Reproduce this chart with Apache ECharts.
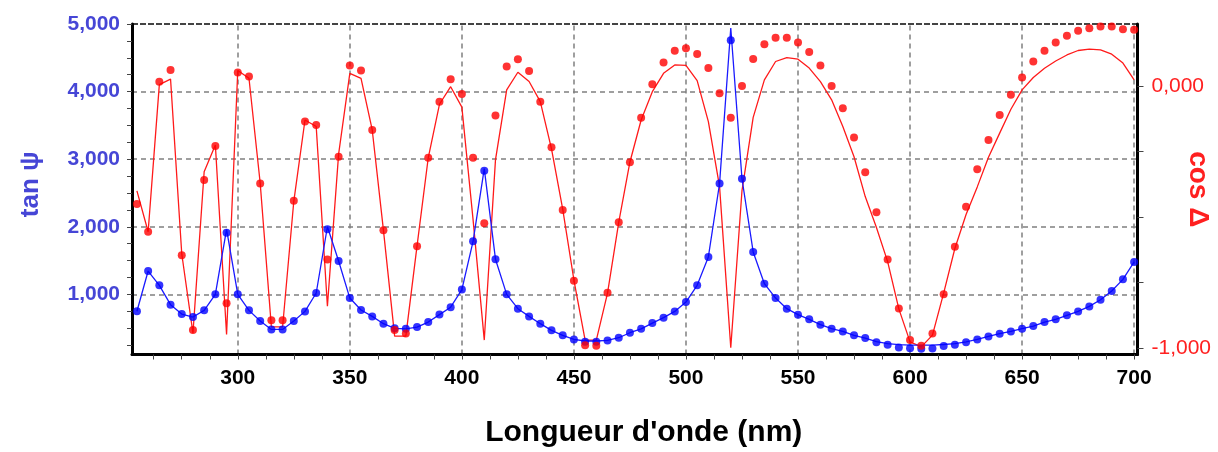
<!DOCTYPE html>
<html>
<head>
<meta charset="utf-8">
<script src="https://cdn.jsdelivr.net/npm/echarts@6.0.0/dist/echarts.min.js"></script>
<style>
  html, body { margin: 0; padding: 0; background: #ffffff; }
  #chart { width: 1218px; height: 452px; }
</style>
</head>
<body>
<div id="chart"></div>
<script>
// Wavelengths (nm)
const wavelengths = [255,260,265,270,275,280,285,290,295,300,
  305,310,315,320,325,330,335,340,345,350,
  355,360,365,370,375,380,385,390,395,400,
  405,410,415,420,425,430,435,440,445,450,
  455,460,465,470,475,480,485,490,495,500,
  505,510,515,520,525,530,535,540,545,550,
  555,560,565,570,575,580,585,590,595,600,
  605,610,615,620,625,630,635,640,645,650,
  655,660,665,670,675,680,685,690,695,700];

// tan psi measured (dots)
const tanPsiMeasured = [0.75,1.345,1.133,0.847,0.708,0.664,0.763,1.00,1.91,1.00,
  0.763,0.605,0.481,0.481,0.605,0.748,1.02,1.963,1.493,0.945,
  0.768,0.674,0.566,0.497,0.49,0.516,0.59,0.70,0.81,1.07,
  1.785,2.83,1.52,1.00,0.788,0.674,0.566,0.467,0.393,0.333,
  0.30,0.30,0.318,0.358,0.432,0.49,0.575,0.655,0.748,0.886,
  1.133,1.553,2.64,4.76,2.71,1.627,1.158,0.945,0.788,0.699,
  0.63,0.551,0.492,0.452,0.393,0.353,0.293,0.255,0.215,0.204,
  0.195,0.20,0.234,0.255,0.293,0.333,0.378,0.418,0.452,0.492,
  0.53,0.59,0.63,0.689,0.748,0.822,0.92,1.049,1.222,1.479];

// tan psi model (line)
const tanPsiModel = [0.75,1.345,1.133,0.847,0.708,0.664,0.763,1.00,1.96,1.00,
  0.763,0.605,0.481,0.481,0.605,0.748,1.02,2.00,1.493,0.945,
  0.768,0.674,0.566,0.497,0.49,0.516,0.59,0.70,0.81,1.07,
  1.785,2.86,1.52,1.00,0.788,0.674,0.566,0.467,0.393,0.333,
  0.31,0.31,0.318,0.358,0.432,0.49,0.575,0.655,0.748,0.886,
  1.133,1.553,2.64,4.94,2.71,1.627,1.158,0.945,0.788,0.699,
  0.63,0.551,0.492,0.452,0.393,0.353,0.30,0.27,0.255,0.25,
  0.248,0.25,0.258,0.272,0.298,0.333,0.378,0.418,0.452,0.492,
  0.53,0.59,0.63,0.689,0.748,0.822,0.92,1.049,1.222,1.479];

// cos delta measured (dots)
const cosDeltaMeasured = [-0.450,-0.556,0.016,0.061,-0.646,-0.931,-0.359,-0.229,-0.829,0.051,
  0.036,-0.372,-0.893,-0.893,-0.438,-0.136,-0.149,-0.662,-0.270,0.078,
  0.059,-0.168,-0.550,-0.931,-0.944,-0.611,-0.274,-0.060,0.025,-0.031,
  -0.274,-0.524,-0.113,0.074,0.102,0.057,-0.060,-0.234,-0.473,-0.743,
  -0.989,-0.991,-0.789,-0.520,-0.291,-0.121,0.006,0.089,0.134,0.144,
  0.122,0.068,-0.028,-0.121,0.000,0.103,0.159,0.184,0.184,0.165,
  0.129,0.078,0.000,-0.085,-0.197,-0.329,-0.482,-0.662,-0.849,-0.969,
  -0.991,-0.944,-0.794,-0.613,-0.461,-0.318,-0.206,-0.111,-0.034,0.032,
  0.093,0.134,0.165,0.191,0.210,0.220,0.226,0.226,0.216,0.214];

// cos delta model (line)
const cosDeltaModel = [-0.40,-0.556,0.005,0.026,-0.64,-0.943,-0.327,-0.225,-0.948,0.059,
  0.029,-0.37,-0.919,-0.919,-0.44,-0.13,-0.155,-0.84,-0.26,0.048,
  0.029,-0.168,-0.55,-0.954,-0.954,-0.61,-0.274,-0.07,-0.003,-0.081,
  -0.51,-0.969,-0.282,-0.015,0.052,0.017,-0.06,-0.24,-0.47,-0.74,
  -0.969,-0.969,-0.79,-0.52,-0.29,-0.13,-0.022,0.048,0.08,0.078,
  0.02,-0.136,-0.384,-0.998,-0.40,-0.12,0.023,0.093,0.108,0.102,
  0.068,0.016,-0.053,-0.155,-0.27,-0.422,-0.54,-0.67,-0.85,-0.976,
  -0.995,-0.95,-0.79,-0.62,-0.49,-0.385,-0.272,-0.18,-0.089,-0.015,
  0.032,0.067,0.095,0.118,0.135,0.14,0.137,0.121,0.087,0.023];

// Tick labels
const xLabelValues = [300,350,400,450,500,550,600,650,700];
const leftLabelValues = [1,2,3,4,5];
const rightLabelValues = [-1,0];

// tick marks (minor + major)
const xTickValues = [];
for (let v = 262.5; v <= 700; v += 12.5) xTickValues.push(v);
const leftTickValues = [];
for (let v = 0.25; v <= 5.0001; v += 0.25) leftTickValues.push(+v.toFixed(2));
const rightTickValues = [-1,-0.75,-0.5,-0.25,0];

const pair = (ys) => wavelengths.map((w, i) => [w, ys[i]]);
const fmt = (v) => v.toFixed(3).replace('.', ',');

const FONT = 'Liberation Sans, Arial, sans-serif';
const gridStyle = { color: '#808080', width: 1.5, type: [5, 4] };

const chart = echarts.init(document.getElementById('chart'), null, { renderer: 'canvas' });
chart.setOption({
  animation: false,
  backgroundColor: '#ffffff',
  grid: { left: 132, right: 80.5, top: 24, bottom: 97.5, containLabel: false, outerBoundsMode: 'none' },
  xAxis: {
    type: 'value', min: 252.8, max: 701.5,
    name: "Longueur d'onde (nm)", nameLocation: 'middle', nameGap: 63, nameMoveOverlap: false,
    nameTextStyle: { fontFamily: FONT, fontSize: 30, fontWeight: 'bold', color: '#000', padding: [0, 0, 0, 18] },
    axisLine: { show: true, onZero: false, lineStyle: { color: '#000', width: 3 } },
    axisTick: { show: true, length: 5, customValues: xTickValues, lineStyle: { color: '#444', width: 1 } },
    axisLabel: { customValues: xLabelValues, margin: 13, fontFamily: FONT, fontSize: 21, fontWeight: 'bold', color: '#000' },
    splitLine: { show: false }
  },
  yAxis: [
    {
      type: 'value', min: 0.11, max: 5, position: 'left',
      name: 'tan ψ', nameLocation: 'middle', nameRotate: 90, nameGap: 88, nameMoveOverlap: false,
      nameTextStyle: { fontFamily: FONT, fontSize: 26, fontWeight: 'bold', color: '#4646d6', padding: [0, 0, 0, 10] },
      axisLine: { show: true, onZero: false, lineStyle: { color: '#000', width: 3 } },
      axisTick: { show: true, length: 5, customValues: leftTickValues, lineStyle: { color: '#444', width: 1 } },
      axisLabel: { customValues: leftLabelValues, formatter: fmt, margin: 12, fontFamily: FONT, fontSize: 21, fontWeight: 'bold', color: '#4646d6' },
      splitLine: { show: false }
    },
    {
      type: 'value', min: -1.024, max: 0.236, position: 'right',
      name: 'cos Δ', nameLocation: 'middle', nameRotate: -90, nameGap: 46, nameMoveOverlap: false,
      nameTextStyle: { fontFamily: FONT, fontSize: 28, fontWeight: 'bold', color: '#ff2020' },
      axisLine: { show: true, onZero: false, lineStyle: { color: '#000', width: 3 } },
      axisTick: { show: true, length: 6, customValues: rightTickValues, lineStyle: { color: '#444', width: 1 } },
      axisLabel: { customValues: rightLabelValues, formatter: fmt, margin: 14, fontFamily: FONT, fontSize: 21, color: '#ff2020' },
      splitLine: { show: false }
    }
  ],
  series: [
    {
      name: 'grid', type: 'line', data: pair(tanPsiModel), xAxisIndex: 0, yAxisIndex: 0,
      showSymbol: false, lineStyle: { opacity: 0 }, silent: true, z: 0,
      markLine: {
        silent: true, symbol: 'none', z: 0, animation: false,
        label: { show: false },
        lineStyle: gridStyle,
        data: xLabelValues.map(v => ({ xAxis: v }))
          .concat([1, 2, 3, 4].map(v => ({ yAxis: v })))
          .concat([{ yAxis: 5, lineStyle: { color: '#444', width: 2, type: [6, 2] } }])
      }
    },
    {
      name: 'cos Δ model', type: 'line', data: pair(cosDeltaModel), yAxisIndex: 1,
      showSymbol: false, lineStyle: { color: '#ff1a1a', width: 1.3 }, z: 2
    },
    {
      name: 'tan ψ model', type: 'line', data: pair(tanPsiModel), yAxisIndex: 0,
      showSymbol: false, lineStyle: { color: '#1a1aff', width: 1.3 }, z: 3
    },
    {
      name: 'tan ψ', type: 'scatter', data: pair(tanPsiMeasured), yAxisIndex: 0,
      symbol: 'circle', symbolSize: 8, itemStyle: { color: '#0000ff' }, z: 4
    },
    {
      name: 'cos Δ', type: 'scatter', data: pair(cosDeltaMeasured), yAxisIndex: 1,
      symbol: 'circle', symbolSize: 8, itemStyle: { color: '#ff0000' }, z: 5
    }
  ]
});
</script>
</body>
</html>
